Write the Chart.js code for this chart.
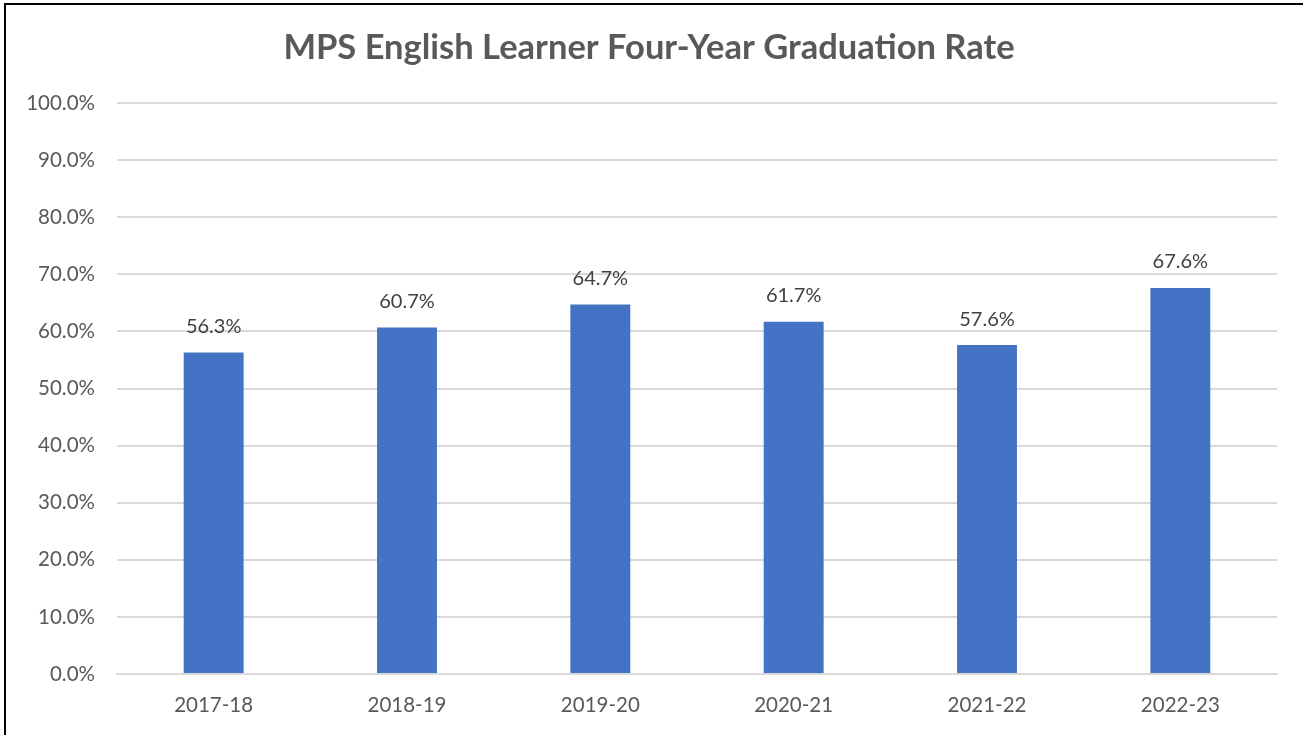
<!DOCTYPE html>
<html>
<head>
<meta charset="utf-8">
<script src="https://cdn.jsdelivr.net/npm/chart.js@4/dist/chart.umd.min.js"></script>
<style>
  html, body { margin: 0; padding: 0; background: #fff; }
  #wrap { position: relative; width: 1303px; height: 735px; overflow: hidden; }
  #frame { position: absolute; left: 4px; top: 3px; width: 1400px; height: 800px;
           border-top: 2px solid #000; border-left: 2px solid #000; pointer-events: none; }
  canvas { position: absolute; left: 0; top: 0; }
</style>
</head>
<body>
<div id="wrap">
  <canvas id="myChart" width="1303" height="735"></canvas>
  <div id="frame"></div>
</div>
<script>
const years = ['2017-18', '2018-19', '2019-20', '2020-21', '2021-22', '2022-23'];
const gradRates = [56.3, 60.7, 64.7, 61.7, 57.6, 67.6];
const yMin = 0;
const yMax = 100;
const yStep = 10;

const font = 'Lato, "Liberation Sans", sans-serif';
const padLeft = 21;

// Werte über den Balken schreiben
const barLabels = {
  id: 'barLabels',
  afterDatasetsDraw(chart) {
    const ctx = chart.ctx;
    const meta = chart.getDatasetMeta(0);
    ctx.save();
    ctx.font = '20px ' + font;
    ctx.fillStyle = '#404040';
    ctx.textAlign = 'center';
    ctx.textBaseline = 'middle';
    meta.data.forEach((bar, i) => {
      ctx.fillText(gradRates[i].toFixed(1) + '%', bar.x, bar.y - 26);
    });
    ctx.restore();
  }
};

const canvas = document.getElementById('myChart');
new Chart(canvas, {
  type: 'bar',
  data: {
    labels: years,
    datasets: [{
      data: gradRates,
      backgroundColor: '#4472C4',
      borderWidth: 0,
      categoryPercentage: 1,
      barPercentage: 0.31
    }]
  },
  options: {
    responsive: false,
    animation: false,
    layout: { padding: { left: padLeft, right: 26, top: 0, bottom: 0 } },
    plugins: {
      legend: { display: false },
      tooltip: { enabled: false },
      title: {
        display: true,
        text: 'MPS English Learner Four-Year Graduation Rate',
        color: '#595959',
        font: { family: font, size: 34.5, weight: 'bold', lineHeight: 1.2 },
        padding: { top: 27, bottom: 34.6 }
      }
    },
    scales: {
      y: {
        min: yMin,
        max: yMax,
        ticks: {
          stepSize: yStep,
          color: '#595959',
          font: { family: font, size: 20.5 },
          padding: 22,
          callback: v => v.toFixed(1) + '%'
        },
        grid: { color: '#D9D9D9', lineWidth: 2, drawTicks: false },
        border: { display: false },
        afterFit(scale) { scale.width = 117 - padLeft; }
      },
      x: {
        ticks: {
          color: '#595959',
          font: { family: font, size: 20.5 },
          padding: 19
        },
        grid: { display: false, drawTicks: false },
        border: { color: '#D9D9D9', width: 2 },
        afterFit(scale) { scale.height = 735 - 674; }
      }
    }
  },
  plugins: [barLabels]
});
</script>
</body>
</html>
